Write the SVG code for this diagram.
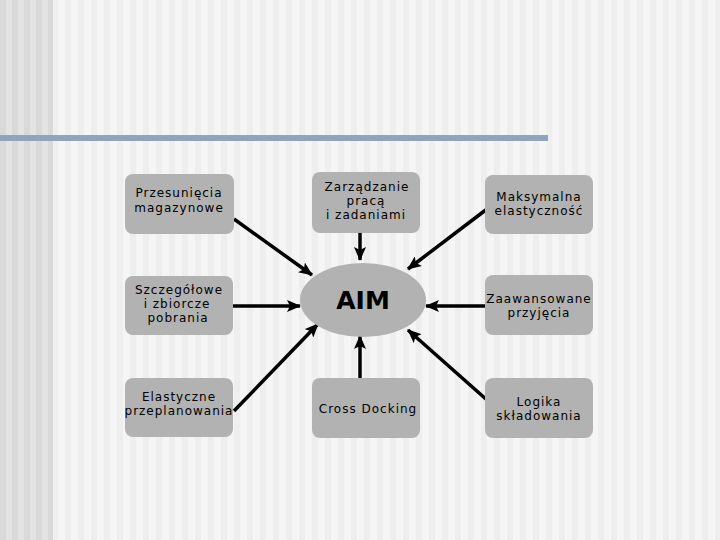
<svg xmlns="http://www.w3.org/2000/svg" width="720" height="540" viewBox="0 0 720 540">
<style>
.box{fill:#b2b2b2}
.t{font-family:"DejaVu Sans",Verdana,sans-serif;font-size:12px;letter-spacing:1px;fill:#000;text-anchor:middle}
.aim{font-family:"DejaVu Sans",Verdana,sans-serif;font-size:25px;font-weight:bold;fill:#000;text-anchor:middle}
.c{stroke:#000;stroke-width:3.5;fill:none;marker-end:url(#ah)}
</style>
<defs>
<pattern id="bgL" width="12" height="10" patternUnits="userSpaceOnUse">
<rect width="12" height="10" fill="#e3e3e3"/><rect x="0" width="6" height="10" fill="#d9d9d9"/>
</pattern>
<pattern id="bgR" width="13" height="10" patternUnits="userSpaceOnUse">
<rect width="13" height="10" fill="#f5f5f5"/><rect x="0" width="6" height="10" fill="#eeeeee"/>
</pattern>
<marker id="ah" markerUnits="userSpaceOnUse" markerWidth="14" markerHeight="12" refX="13" refY="6" orient="auto">
<path d="M0,0 L14,6 L0,12 L3,6 Z" fill="#000"/>
</marker>
</defs>
<rect width="720" height="540" fill="url(#bgR)"/>
<rect width="53" height="540" fill="url(#bgL)"/>
<rect x="0" y="135" width="548" height="6" fill="#8fa5bf"/>

<g id="connectors">
<line class="c" x1="234" y1="219" x2="312" y2="275"/>
<line class="c" x1="360" y1="233" x2="360" y2="260"/>
<line class="c" x1="487" y1="209" x2="408" y2="269"/>
<line class="c" x1="233" y1="306" x2="300" y2="306"/>
<line class="c" x1="485" y1="306" x2="426" y2="306"/>
<line class="c" x1="234" y1="411" x2="318" y2="324"/>
<line class="c" x1="360" y1="378" x2="360" y2="336"/>
<line class="c" x1="487" y1="400" x2="408" y2="330"/>
</g>

<g id="n-aim">
<ellipse cx="363" cy="300" rx="63" ry="37" fill="#b2b2b2"/>
<text class="aim" x="363" y="309">AIM</text>
</g>
<g id="n1">
<rect class="box" x="125" y="174" width="109" height="60" rx="8"/>
<text class="t" x="179" y="197">Przesunięcia</text>
<text class="t" x="179" y="212">magazynowe</text>
</g>
<g id="n2">
<rect class="box" x="312" y="172" width="108" height="61" rx="8"/>
<text class="t" x="367" y="191">Zarządzanie</text>
<text class="t" x="366" y="205">pracą</text>
<text class="t" x="366" y="219">i zadaniami</text>
</g>
<g id="n3">
<rect class="box" x="485" y="175" width="108" height="59" rx="8"/>
<text class="t" x="539" y="201">Maksymalna</text>
<text class="t" x="539" y="215">elastyczność</text>
</g>
<g id="n4">
<rect class="box" x="125" y="276" width="108" height="59" rx="8"/>
<text class="t" x="179" y="294">Szczegółowe</text>
<text class="t" x="177" y="308">i zbiorcze</text>
<text class="t" x="178" y="322">pobrania</text>
</g>
<g id="n6">
<rect class="box" x="485" y="275" width="108" height="60" rx="8"/>
<text class="t" x="539" y="303">Zaawansowane</text>
<text class="t" x="539" y="317">przyjęcia</text>
</g>
<g id="n7">
<rect class="box" x="125" y="378" width="108" height="59" rx="8"/>
<text class="t" x="179" y="401">Elastyczne</text>
<text class="t" x="179" y="415">przeplanowania</text>
</g>
<g id="n8">
<rect class="box" x="312" y="378" width="108" height="60" rx="8"/>
<text class="t" x="368" y="413">Cross Docking</text>
</g>
<g id="n9">
<rect class="box" x="485" y="378" width="108" height="60" rx="8"/>
<text class="t" x="539" y="406">Logika</text>
<text class="t" x="539" y="420">składowania</text>
</g>
</svg>
